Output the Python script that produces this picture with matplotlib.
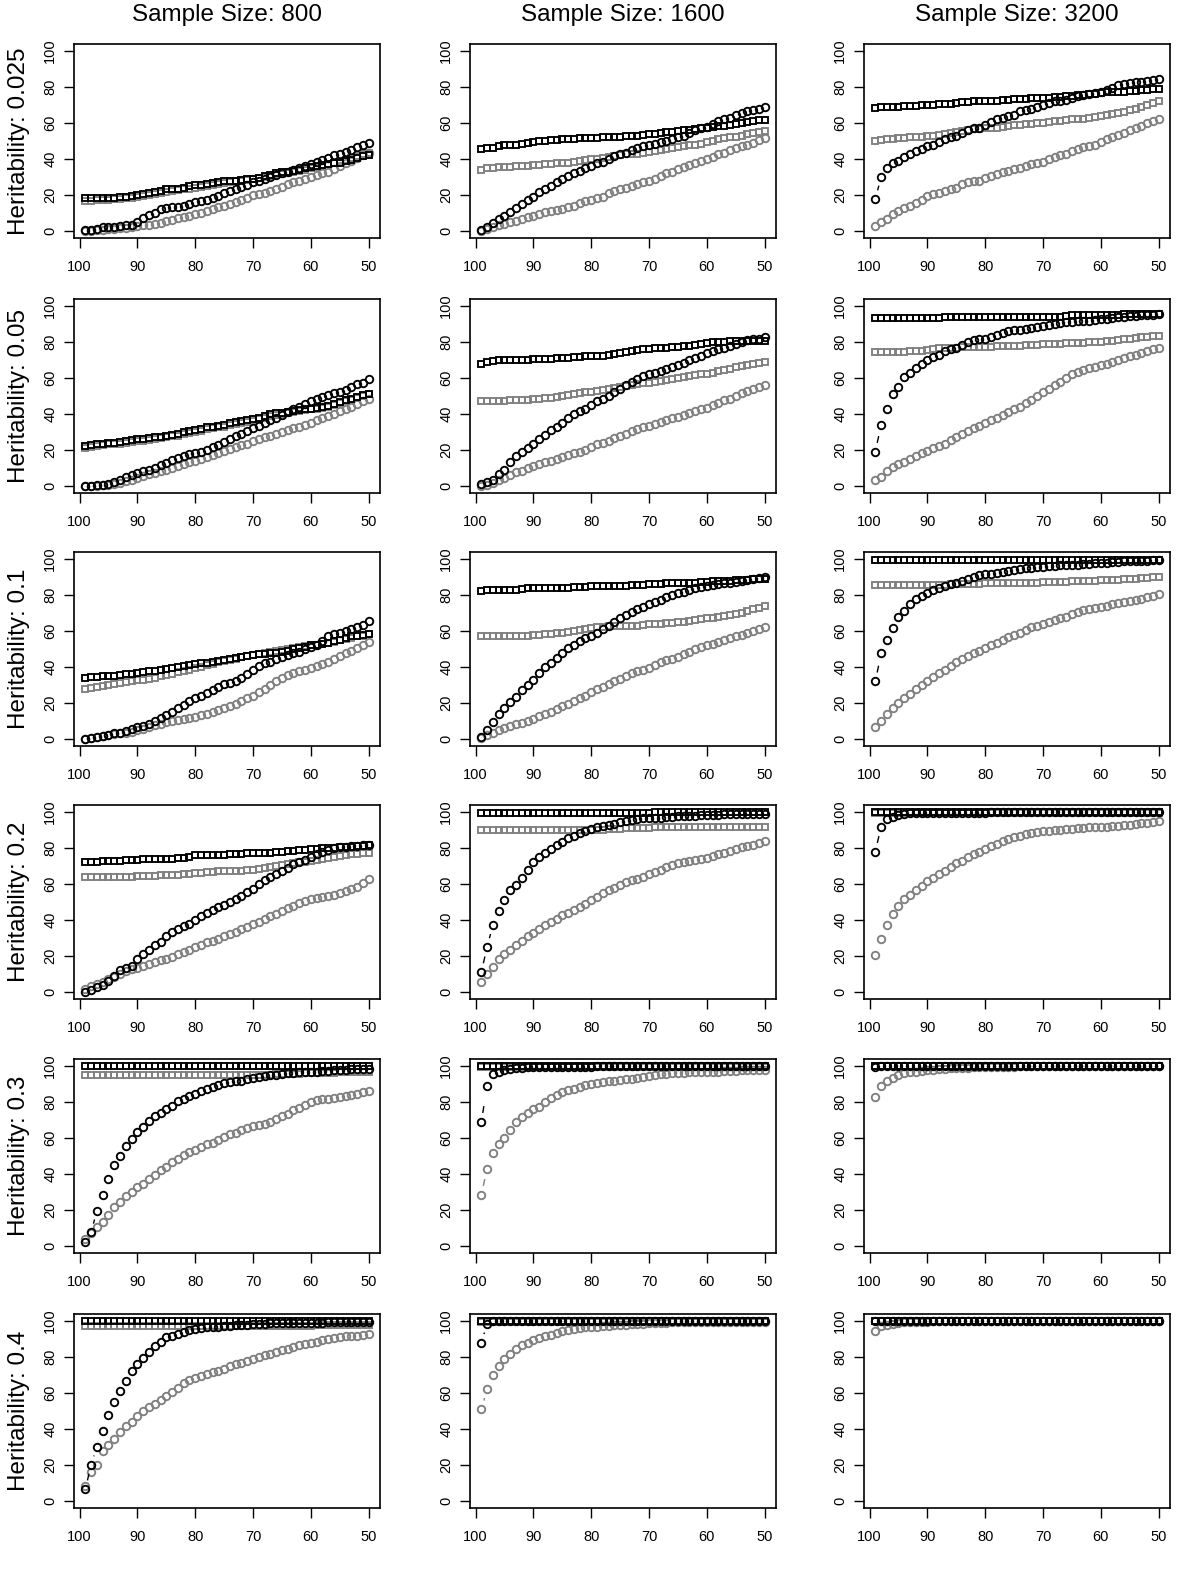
import numpy as np
import matplotlib
matplotlib.use('Agg')
import matplotlib.pyplot as plt

plt.rcParams['font.family'] = ['Liberation Sans', 'DejaVu Sans']

# cutoff (x axis), read from right to left: 99 .. 50
cutoffs = [99, 98, 97, 96, 95, 94, 93, 92, 91, 90, 89, 88, 87, 86, 85, 84, 83,
           82, 81, 80, 79, 78, 77, 76, 75, 74, 73, 72, 71, 70, 69, 68, 67, 66,
           65, 64, 63, 62, 61, 60, 59, 58, 57, 56, 55, 54, 53, 52, 51, 50]
sample_sizes = ['800', '1600', '3200']
heritabilities = ['0.025', '0.05', '0.1', '0.2', '0.3', '0.4']
x_ticks = [100, 90, 80, 70, 60, 50]
y_ticks = [0, 20, 40, 60, 80, 100]

# bsq = black squares, gsq = grey squares, bci = black circles, gci = grey circles

# ---- heritability 0.025 ----
bsq_025_800 = [18, 18, 18, 18, 18.5, 18.5, 19, 19, 19.5, 20,
               20.5, 21, 21.5, 22, 23, 23, 23.5, 24, 25, 25.5,
               25.5, 26, 26.5, 27, 27.5, 27.5, 28, 28.5, 29, 29,
               29.5, 30.5, 31, 32, 32.5, 33, 33.5, 34, 35, 35.5,
               36, 36.5, 37, 37.5, 38, 39, 39.5, 40.5, 41.5, 42]
gsq_025_800 = [16.5, 16.5, 17, 17, 17, 17.5, 17.5, 18, 18.5, 19,
               19.5, 20, 20.5, 21, 21.5, 22, 22.5, 23, 23.5, 24,
               24.5, 25, 25.5, 26, 26.5, 27, 27.5, 28, 28.5, 29,
               29.5, 30, 30.5, 31, 31.5, 32, 33, 33.5, 34, 35,
               35.5, 36, 37, 37.5, 38.5, 39.5, 40.5, 41.5, 42.5, 43.5]
bci_025_800 = [0.3, 0.5, 1, 2, 2, 2.2, 2.5, 3, 3.5, 5,
               7, 9, 10, 12, 12.5, 13, 13.5, 14, 15, 16,
               16.5, 17, 18, 19.5, 21, 22, 23, 24.5, 25.5, 27,
               28, 29, 30, 31, 32, 33, 34, 35, 36, 37,
               38.5, 39.5, 40.5, 42, 43, 44, 45, 46.5, 47.5, 49]
gci_025_800 = [0, 0, 0.3, 0.5, 1, 1, 1.5, 1.5, 2, 2.5,
               3, 3.5, 4, 4.5, 5.5, 6, 7, 7.5, 8.5, 9.5,
               10, 11, 12, 13, 14, 15, 16, 17, 18.5, 20,
               20.5, 21, 22, 23, 24.5, 26, 27, 28, 29, 30,
               31, 32, 33, 34.5, 36, 37.5, 39, 40.5, 42, 43.5]

bsq_025_1600 = [45.5, 46, 46, 47, 47.5, 48, 48, 48.5, 49, 49.5,
                50, 50, 50.5, 50.5, 51, 51, 51, 51.5, 51.5, 51.5,
                51.5, 52, 52, 52, 52.5, 53, 53, 53, 53.5, 54,
                54, 54.5, 55, 55, 55.5, 56, 56, 56.5, 57, 57.5,
                58, 58.5, 58.5, 59, 59.5, 60, 60.5, 61, 61.5, 61.5]
gsq_025_1600 = [34, 35, 35, 35.5, 35.5, 35.5, 36, 36, 36, 36.5,
                36.5, 37, 37, 37.5, 38, 38, 38.5, 39, 39.5, 40,
                40, 40.5, 41, 41.5, 42, 42.5, 43, 43, 43.5, 44,
                44.5, 45, 45.5, 46, 46.5, 47, 47.5, 48, 48.5, 49.5,
                50, 51, 51.5, 52, 52.5, 53, 54, 54.5, 55, 55.5]
bci_025_1600 = [0.5, 2, 4.5, 6.5, 8.5, 10.5, 12.5, 15, 17, 19,
                21.5, 23.5, 25, 27, 29, 30.5, 32, 33.5, 35, 36,
                37.5, 38.5, 40, 41.5, 42.5, 43.5, 45, 46, 47, 48,
                48.5, 49.5, 50, 51, 52, 53, 54.5, 56, 57, 58,
                59.5, 61, 62, 63, 64.5, 65.5, 66.5, 67.5, 68, 69]
gci_025_1600 = [0, 1, 2, 3, 4, 5, 5.5, 6.5, 7.5, 8.5,
                9.5, 10.5, 11, 11.5, 12, 13, 14, 15.5, 16.5, 17,
                18, 19, 21, 22, 23, 24, 25, 26, 27, 28,
                29, 30.5, 32, 33, 34.5, 35.5, 36.5, 38, 39, 40,
                41, 42.5, 43.5, 45, 46, 47, 48, 49, 50.5, 51.5]

bsq_025_3200 = [68.5, 69, 69, 69, 69, 69.5, 69.5, 69.5, 70, 70,
                70, 70.5, 70.5, 70.5, 71, 71.5, 71.5, 72, 72, 72,
                72, 72.5, 73, 73, 73.5, 73.5, 73.5, 74, 74, 74,
                74, 74.5, 74.5, 75, 75, 75.5, 75.5, 76, 76, 76.5,
                77, 77, 77.5, 77.5, 78, 78, 78.5, 78.5, 79, 79]
gsq_025_3200 = [50, 50.5, 51, 51, 51.5, 51.5, 52, 52, 52.5, 53,
                53, 53.5, 54, 54.5, 55, 55.5, 56, 56.5, 56.5, 57,
                57, 57.5, 58, 58.5, 59, 59, 59.5, 59.5, 60, 60,
                60.5, 61, 61, 61.5, 62, 62, 62.5, 63, 63.5, 64,
                64.5, 65, 65.5, 66, 67, 68, 69, 70, 71, 72]
bci_025_3200 = [17.7, 30, 35, 37.5, 39, 41, 43, 44.5, 45.5, 47,
                48, 49.5, 51, 52, 53, 54.5, 56, 57, 57.5, 59,
                60.5, 62, 63, 64, 64.5, 66.5, 67.5, 68, 69, 70,
                71, 72, 72.5, 73, 74, 75, 75.5, 76, 76.5, 77.5,
                78.5, 79.5, 81, 82, 82.5, 83, 83, 83.5, 84, 84.5]
gci_025_3200 = [2.8, 5, 6.5, 9.5, 11, 12.5, 14, 15.5, 17, 19.5,
                20.5, 21, 22, 23, 24, 26, 27, 27.5, 28, 29.5,
                30.5, 31.5, 32.5, 33.5, 34.5, 35, 36, 37, 37.5, 38.5,
                40, 41, 42, 43, 44.5, 45.5, 46.5, 47, 48, 49.5,
                51, 52, 53.5, 54.5, 56, 57, 58.5, 60, 61, 62]

# ---- heritability 0.05 ----
bsq_05_800 = [21.9, 22.5, 23, 23.5, 24, 24, 24.5, 25, 25.5, 26,
              26, 26.5, 27, 27, 28, 28.5, 29, 30, 30.5, 31,
              31.5, 32.5, 33, 33.5, 34, 35, 35.5, 36, 36.5, 37,
              38, 39, 40, 40.5, 40.5, 41, 41.5, 42, 42.5, 43,
              43.5, 44, 44.5, 45.5, 46.5, 47.5, 48.5, 49.5, 50.5, 51]
gsq_05_800 = [21, 21.5, 22, 22.5, 23, 23, 23.5, 24, 24.5, 25,
              25, 25.5, 26, 26.5, 27, 27.5, 28, 29, 29.5, 30,
              30.5, 31.5, 32, 32.5, 33, 34, 34.5, 35, 35.5, 36,
              37, 38, 39, 39.5, 40, 40.5, 41, 41.5, 42, 42.5,
              43, 43.5, 44, 45, 46, 47, 48, 49, 50, 51]
bci_05_800 = [0, 0, 0.3, 0.5, 1, 2, 3.5, 5, 6, 7,
              8, 9, 10, 11.5, 12.5, 14.5, 15.5, 16.5, 17.5, 18.5,
              19, 20, 21.5, 22.5, 24.5, 26, 27.5, 29, 30.5, 32,
              33.5, 35, 36.5, 38, 39.5, 41, 42.5, 44, 45.5, 47,
              48.5, 49.5, 50.5, 51.5, 52.5, 53.5, 55, 56.5, 57.5, 59.5]
gci_05_800 = [0, 0, 0, 0.3, 0.5, 1, 1.5, 2.5, 3.5, 4.5,
              5.5, 6.5, 7, 8, 9, 10, 11, 12, 13, 14,
              15, 16, 17, 18, 19.5, 20.5, 21.5, 22.5, 23.5, 25,
              26, 27, 28, 29, 30, 31, 32, 33, 34, 35,
              36.5, 37.5, 39, 40, 41.5, 43, 44, 45.5, 47, 48.5]

bsq_05_1600 = [68, 69, 69.5, 70, 70, 70, 70, 70, 70, 70.5,
               70.5, 70.5, 70.5, 71, 71, 71, 71.5, 71.5, 72, 72,
               72.5, 72.5, 73, 73.5, 74, 74.5, 75, 75.5, 76, 76,
               76.5, 77, 77, 77.5, 77.5, 78, 78, 78.5, 79, 79.5,
               80, 80, 80, 80.5, 80.5, 80.5, 80.5, 80.5, 80.5, 80.5]
gsq_05_1600 = [47, 47, 47, 47, 47, 47.5, 47.5, 48, 48, 48.5,
               48.5, 49, 49, 49.5, 50, 50.5, 51, 51.5, 52, 52.5,
               53, 53.5, 54, 54.5, 55, 55.5, 56, 56.5, 57, 57.5,
               58, 58.5, 59, 59.5, 60, 60.5, 61, 61.5, 62, 62.5,
               63, 64, 64.5, 65, 66, 66.5, 67, 68, 68.5, 69]
bci_05_1600 = [1, 2, 3.5, 6.5, 9, 13.5, 16.5, 19, 21, 23.5,
               26, 28.5, 31, 33, 35, 37.5, 40, 41.5, 43, 45,
               47, 48.5, 50, 52, 54, 56, 58, 59.5, 61, 62,
               63, 64, 65, 66, 67, 68.5, 70, 71, 72.5, 74,
               75, 76, 77, 78, 79, 80, 81, 81.5, 82, 83]
gci_05_1600 = [0, 0.5, 1.5, 3, 4.5, 6, 7.5, 8.5, 10, 11,
               12, 13, 14, 15, 16, 17, 18, 19, 20, 21.5,
               23, 24, 25, 26.5, 28, 29, 30.5, 31.5, 32.5, 33.5,
               34.5, 35.5, 36.5, 37.5, 38.5, 39.5, 40.5, 41.5, 42.5, 43.5,
               45, 46, 47.5, 48.5, 50, 51.5, 53, 54, 55, 56]

bsq_05_3200 = [93.5, 93.5, 93.5, 93.5, 93.5, 93.5, 93.5, 93.5, 93.5, 93.5,
               93.5, 93.5, 94, 94, 94, 94, 94, 94, 94, 94,
               94, 94, 94, 94, 94, 94, 94, 94, 94, 94,
               94, 94, 94, 94.5, 95, 95, 95, 95, 95, 95,
               95, 95, 95, 95.5, 95.5, 95.5, 95.5, 95.5, 95.5, 95.5]
gsq_05_3200 = [74.5, 74.5, 74.5, 74.5, 74.5, 74.5, 75, 75, 75, 75.5,
               76, 76.5, 77, 77, 77, 77.5, 77.5, 77.5, 77.5, 77.5,
               77.5, 78, 78, 78, 78, 78, 78.5, 78.5, 78.5, 79,
               79, 79, 79, 79.5, 79.5, 79.5, 79.5, 80, 80, 80,
               80.5, 80.5, 81, 81.5, 82, 82.5, 83, 83, 83.5, 83.5]
bci_05_3200 = [19, 34, 43, 51, 55, 60.5, 63, 65.5, 68, 70,
               71.5, 73, 75, 76, 77, 78.5, 80, 81, 81.5, 82,
               83, 84, 85, 86, 86.5, 87, 87.5, 88, 88.5, 89,
               89.5, 90, 90.5, 91, 91, 91.5, 92, 92, 92.5, 93,
               93, 93.5, 94, 94, 94.5, 94.5, 95, 95, 95, 95.5]
gci_05_3200 = [3, 5, 8.5, 10.5, 12, 13.5, 15, 16.5, 18, 19.5,
               21, 22, 23.5, 25.5, 27, 29, 30.5, 32, 33.5, 35,
               36.5, 38, 39.5, 41, 42.5, 44, 46, 48, 50, 52,
               54, 56, 58, 60, 62, 63.5, 64.5, 65.5, 66, 67,
               68, 69, 70, 71, 72, 73, 74, 75, 76, 77]

# ---- heritability 0.1 ----
bsq_1_800 = [33.7, 34.5, 34.5, 35, 35, 35, 35.5, 36, 36, 36.5,
             37, 37.5, 38, 38.5, 39, 39.5, 40, 40.5, 41, 41.5,
             42, 42, 42.5, 43.5, 44, 44.5, 45, 45.5, 46, 46.5,
             47, 47, 47.5, 48, 48.5, 49, 50, 50.5, 51, 52,
             52.5, 53, 53.5, 54.5, 55, 56, 57, 57.5, 58, 58.5]
gsq_1_800 = [28, 28.5, 29, 29.5, 30, 30.5, 31, 31.5, 32, 32.5,
             33, 33.5, 34, 35, 35.5, 36, 37, 38, 38.5, 39.5,
             40, 41, 41.5, 42.5, 43.5, 44, 44.5, 45.5, 46, 46.5,
             47, 47.5, 48.5, 49, 49.5, 50, 50.5, 51, 51.5, 52,
             52.5, 53, 53.5, 54, 55, 55.5, 56, 57, 57.5, 58.5]
bci_1_800 = [0, 0.5, 1, 1.5, 2, 3, 3.5, 4.5, 5.5, 6.5,
             7, 8.5, 10, 11.5, 13, 15, 17, 19, 21, 22.5,
             24, 25.5, 27, 29, 30.5, 31, 32, 34, 36, 38.5,
             40.5, 42, 43, 44.5, 45.5, 46.5, 47.5, 48.5, 50, 51,
             52.5, 54.5, 57, 58.5, 59, 60, 61, 62, 63.5, 65.5]
gci_1_800 = [0, 0.5, 1, 1.5, 2, 2.5, 3, 3.5, 4, 5,
             5.5, 6.5, 7.5, 8.5, 9.5, 10, 10.5, 11, 11.5, 12,
             13, 14, 15, 16, 17, 18, 19.5, 21, 22.5, 24,
             26, 28, 30, 32, 34, 35.5, 36.5, 37.5, 38.5, 39.5,
             40.5, 41.5, 43, 44.5, 46, 47.5, 49, 50.5, 52, 54]

bsq_1_1600 = [82.5, 83, 83, 83, 83, 83, 83, 83.5, 84, 84,
              84, 84, 84, 84, 84, 84, 84.5, 84.5, 84.5, 85,
              85, 85, 85, 85, 85, 85, 85.5, 85.5, 85.5, 86,
              86, 86, 86.5, 86.5, 87, 87, 87, 87, 87.5, 87.5,
              88, 88, 88, 88, 88.5, 88.5, 88.5, 89, 89, 89]
gsq_1_1600 = [57, 57, 57, 57, 57, 57, 57.5, 57.5, 57.5, 58,
              58, 58.5, 58.5, 59, 59, 59.5, 60, 60.5, 61, 61.5,
              62, 62.5, 63, 63, 63, 63, 63, 63, 63.5, 64,
              64, 64, 64.5, 64.5, 65, 65, 65.5, 66, 66.5, 67,
              67.5, 68, 68.5, 69, 69.5, 70, 71, 72, 73, 74]
bci_1_1600 = [1, 5, 9.5, 14, 17, 20.5, 23.5, 27, 30, 33,
              36.5, 40, 42, 45, 48, 50.5, 52.5, 54.5, 56, 57.5,
              59, 61, 63, 65, 67, 69, 70.5, 72, 73.5, 75,
              76, 77.5, 79, 80, 81, 82, 83, 84, 84.5, 85,
              85.5, 86, 86.5, 87, 87.5, 88, 88.5, 89, 89.5, 90]
gci_1_1600 = [0.5, 2, 3.5, 5, 6, 7, 8, 9, 10, 11,
              12.5, 14, 15, 16.5, 18, 19.5, 21, 22.5, 24, 26,
              27.5, 29, 30.5, 32, 33.5, 35, 36.5, 37.5, 38.5, 39.5,
              41, 42.5, 44, 44.5, 45.5, 47, 48.5, 50, 51, 52,
              53, 54, 55, 56, 57, 58, 59, 60, 61, 62.5]

bsq_1_3200 = [99.5, 99.5, 99.5, 99.5, 99.5, 99.5, 99.5, 99.5, 99.5, 99.5,
              99.5, 99.5, 99.5, 99.5, 99.5, 99.5, 99.5, 99.5, 99.5, 99.5,
              99.5, 99.5, 99.5, 99.5, 99.5, 99.5, 99.5, 99.5, 99.5, 99.5,
              99.5, 99.5, 99.5, 99.5, 99.5, 99.5, 99.5, 99.5, 99.5, 99.5,
              99.5, 99.5, 99.5, 99.5, 99.5, 99.5, 99.5, 99.5, 99.5, 99.5]
gsq_1_3200 = [85.5, 85.5, 85.5, 85.5, 85.5, 85.5, 85.5, 85.5, 85.5, 85.5,
              85.5, 85.5, 85.5, 86, 86, 86, 86, 86, 86, 86.5,
              86.5, 86.5, 86.5, 86.5, 87, 87, 87, 87, 87, 87.5,
              87.5, 87.5, 87.5, 87.5, 88, 88, 88, 88, 88, 88.5,
              88.5, 88.5, 88.5, 89, 89, 89, 89.5, 89.5, 90, 90]
bci_1_3200 = [32, 47.5, 55, 61.5, 68, 71, 75, 78, 79.5, 81,
              83, 84, 85, 86, 87, 88, 89, 90, 91, 91.5,
              92, 92.5, 93, 93.5, 94, 94.5, 95, 95, 95.5, 95.5,
              96, 96, 96.5, 96.5, 97, 97, 97.5, 97.5, 98, 98,
              98, 98.5, 98.5, 99, 99, 99, 99, 99, 99.5, 99.5]
gci_1_3200 = [6.5, 10, 14, 17, 20, 22.5, 25, 27.5, 30, 32,
              34.5, 36.5, 38.5, 40.5, 42.5, 44.5, 46, 47.5, 49, 50.5,
              52, 53.5, 55, 56.5, 58, 59, 60.5, 62, 63, 64,
              65, 66, 67, 68, 69.5, 70.5, 71.5, 72.5, 73, 73.5,
              74, 75, 75.5, 76, 76.5, 77.5, 78, 79, 79.5, 80.5]

# ---- heritability 0.2 ----
bsq_2_800 = [72, 72.5, 72.5, 73, 73, 73, 73, 73.5, 73.5, 73.5,
             74, 74, 74, 74, 74, 74, 74.5, 74.5, 75, 76,
             76, 76, 76, 76, 76, 76.5, 76.5, 76.5, 77, 77,
             77, 77.5, 77.5, 78, 78, 78.5, 78.5, 79, 79, 79.5,
             79.5, 80, 80, 80, 80.5, 80.5, 80.5, 81, 81, 81.5]
gsq_2_800 = [64, 64, 64, 64, 64, 64, 64, 64, 64, 64.5,
             64.5, 64.5, 64.5, 65, 65, 65, 65, 65.5, 65.5, 66,
             66, 66.5, 66.5, 67, 67, 67, 67.5, 67.5, 68, 68,
             68.5, 69, 69.5, 70, 70.5, 71, 71.5, 72, 72.5, 73,
             73.5, 74, 74.5, 75, 75.5, 76, 76.5, 76.5, 77, 77.5]
bci_2_800 = [0, 1, 2.5, 4, 6, 9, 12, 13, 14.5, 18,
             21, 23.5, 26, 28, 31, 33.5, 35, 36.5, 37.5, 40,
             42, 44, 45.5, 47, 48.5, 50, 51.5, 53.5, 55.5, 57.5,
             60, 62, 64, 65.5, 67, 69, 71, 72, 73.5, 75,
             76.5, 78, 79, 80, 80.5, 80.5, 81, 81, 81.5, 81.5]
gci_2_800 = [1.5, 3, 4.5, 5.5, 7, 8.5, 10, 11.5, 12.5, 13.5,
             14.5, 15.5, 16.5, 17.5, 18.5, 19.5, 21, 22, 23.5, 25,
             26, 27.5, 28.5, 29.5, 31, 32, 33.5, 35, 36, 37.5,
             39, 40.5, 42, 43.5, 45, 46.5, 48, 49.5, 50.5, 51.5,
             52, 53, 53.5, 54, 55, 56, 57, 58.5, 60.5, 63]

bsq_2_1600 = [99.5, 99.5, 99.5, 99.5, 99.5, 99.5, 99.5, 99.5, 99.5, 99.5,
              99.5, 99.5, 99.5, 99.5, 99.5, 99.5, 99.5, 99.5, 99.5, 99.5,
              99.5, 99.5, 99.5, 99.5, 99.5, 99.5, 99.5, 99.5, 99.5, 99.5,
              100, 100, 100, 100, 100, 100, 100, 100, 100, 100,
              100, 100, 100, 100, 100, 100, 100, 100, 100, 100]
gsq_2_1600 = [90, 90, 90, 90, 90, 90, 90, 90, 90, 90,
              90, 90, 90, 90, 90, 90, 90, 90, 90, 90,
              90, 90, 90.5, 90.5, 90.5, 91, 91, 91, 91, 91,
              91.5, 91.5, 91.5, 91.5, 91.5, 92, 92, 92, 92, 92,
              92, 92, 92, 92, 92, 92, 92, 92, 92, 92]
bci_2_1600 = [11, 25, 37, 45, 51, 56.5, 59.5, 63.5, 68, 72,
              75, 77, 79.5, 82, 83.5, 85.5, 87, 88.5, 89.5, 90.5,
              91.5, 92.5, 93, 93.5, 94.5, 95, 95.5, 96, 96.5, 96.5,
              97, 97, 97.5, 97.5, 98, 98, 98, 98, 98.5, 98.5,
              98.5, 98.5, 99, 99, 99, 99, 99, 99, 99, 99]
gci_2_1600 = [5.5, 10, 14, 18, 21, 23.5, 26, 28.5, 31, 33,
              35, 37, 39, 40.5, 42.5, 44, 45.5, 47, 49, 51,
              53, 55, 56.5, 58, 59.5, 61, 62, 63, 64, 65.5,
              66.5, 68, 69.5, 70.5, 71.5, 72.5, 73, 73.5, 74, 74.5,
              75.5, 76.5, 77.5, 78.5, 79.5, 80.5, 81, 82, 83, 84]

bsq_2_3200 = [100, 100, 100, 100, 100, 100, 100, 100, 100, 100,
              100, 100, 100, 100, 100, 100, 100, 100, 100, 100,
              100, 100, 100, 100, 100, 100, 100, 100, 100, 100,
              100, 100, 100, 100, 100, 100, 100, 100, 100, 100,
              100, 100, 100, 100, 100, 100, 100, 100, 100, 100]
gsq_2_3200 = [99.5, 99.5, 99.5, 99.5, 99.5, 99.5, 99.5, 99.5, 99.5, 99.5,
              99.5, 99.5, 99.5, 99.5, 99.5, 99.5, 99.5, 99.5, 99.5, 99.5,
              99.5, 99.5, 99.5, 99.5, 99.5, 99.5, 99.5, 99.5, 99.5, 99.5,
              99.5, 99.5, 99.5, 99.5, 99.5, 99.5, 99.5, 99.5, 99.5, 99.5,
              99.5, 99.5, 99.5, 99.5, 99.5, 99.5, 99.5, 99.5, 99.5, 99.5]
bci_2_3200 = [78, 92, 96, 97.5, 98.5, 99, 99.5, 99.5, 99.5, 99.5,
              99.5, 99.5, 99.5, 99.5, 99.5, 99.5, 99.5, 99.5, 99.5, 99.5,
              100, 100, 100, 100, 100, 100, 100, 100, 100, 100,
              100, 100, 100, 100, 100, 100, 100, 100, 100, 100,
              100, 100, 100, 100, 100, 100, 100, 100, 100, 100]
gci_2_3200 = [20.5, 29.5, 37, 43.5, 47.5, 51.5, 54, 56.5, 59, 61.5,
              63.5, 65.5, 67, 69.5, 71.5, 73, 75, 76.5, 78, 79.5,
              81, 82.5, 84, 85, 86, 87, 88, 88.5, 89, 89.5,
              89.5, 90, 90, 90.5, 90.5, 91, 91, 91.5, 92, 92,
              92, 92.5, 92.5, 93, 93, 93.5, 94, 94, 94.5, 95]

# ---- heritability 0.3 ----
bsq_3_800 = [100, 100, 100, 100, 100, 100, 100, 100, 100, 100,
             100, 100, 100, 100, 100, 100, 100, 100, 100, 100,
             100, 100, 100, 100, 100, 100, 100, 100, 100, 100,
             100, 100, 100, 100, 100, 100, 100, 100, 100, 100,
             100, 100, 100, 100, 100, 100, 100, 100, 100, 100]
gsq_3_800 = [95, 95, 95, 95, 95, 95, 95, 95, 95, 95,
             95, 95, 95, 95, 95, 95, 95, 95, 95, 95,
             95, 95, 95, 95, 95, 95, 95, 95, 95, 95,
             95, 95, 95, 95.5, 95.5, 95.5, 95.5, 95.5, 96, 96,
             96, 96, 96, 96, 96.5, 96.5, 96.5, 96.5, 96.5, 96.5]
bci_3_800 = [2, 7.5, 19.5, 28.5, 37, 45, 50, 55.5, 59.5, 63.5,
             66, 69.5, 72.5, 74, 76, 78, 80.5, 82, 83.5, 84.5,
             86, 87.5, 88.5, 89.5, 90.5, 91, 91.5, 92, 93, 93.5,
             94, 94.5, 95, 95, 95.5, 96, 96, 96.5, 96.5, 97,
             97, 97.5, 97.5, 98, 98, 98, 98.5, 98.5, 98.5, 98.5]
gci_3_800 = [4, 7, 10.5, 13, 17, 21.5, 24.5, 27.5, 30, 32.5,
             34.5, 37, 39.5, 42, 44, 46.5, 48.5, 50.5, 52.5, 53.5,
             55, 56.5, 57.5, 59, 60.5, 62, 63, 64.5, 65.5, 66.5,
             67, 68, 69, 70.5, 72, 73.5, 75.5, 77, 78.5, 80,
             81, 81.5, 82, 82.5, 83, 83.5, 84, 84.5, 85.5, 86]

bsq_3_1600 = [100, 100, 100, 100, 100, 100, 100, 100, 100, 100,
              100, 100, 100, 100, 100, 100, 100, 100, 100, 100,
              100, 100, 100, 100, 100, 100, 100, 100, 100, 100,
              100, 100, 100, 100, 100, 100, 100, 100, 100, 100,
              100, 100, 100, 100, 100, 100, 100, 100, 100, 100]
gsq_3_1600 = [99.5, 99.5, 99.5, 99.5, 99.5, 99.5, 99.5, 99.5, 99.5, 99.5,
              99.5, 99.5, 99.5, 99.5, 99.5, 99.5, 99.5, 99.5, 99.5, 99.5,
              99.5, 99.5, 99.5, 99.5, 99.5, 99.5, 99.5, 99.5, 99.5, 99.5,
              99.5, 99.5, 99.5, 99.5, 99.5, 99.5, 99.5, 99.5, 99.5, 99.5,
              99.5, 99.5, 99.5, 99.5, 99.5, 99.5, 99.5, 99.5, 99.5, 99.5]
bci_3_1600 = [69, 89, 95.5, 97, 98, 98.5, 99, 99, 99.5, 99.5,
              99.5, 99.5, 99.5, 99.5, 99.5, 99.5, 99.5, 99.5, 99.5, 99.5,
              100, 100, 100, 100, 100, 100, 100, 100, 100, 100,
              100, 100, 100, 100, 100, 100, 100, 100, 100, 100,
              100, 100, 100, 100, 100, 100, 100, 100, 100, 100]
gci_3_1600 = [28.5, 43, 51.5, 56.5, 60, 64.5, 69, 71.5, 74, 76,
              77.5, 80, 82.5, 84, 85.5, 86.5, 87.5, 88.5, 89.5, 90,
              90.5, 91, 91.5, 92, 92.5, 93, 93, 93.5, 94, 94.5,
              95, 95.5, 95.5, 96, 96, 96, 96.5, 96.5, 96.5, 97,
              97, 97, 97.5, 97.5, 97.5, 98, 98, 98, 98, 98]

bsq_3_3200 = [100, 100, 100, 100, 100, 100, 100, 100, 100, 100,
              100, 100, 100, 100, 100, 100, 100, 100, 100, 100,
              100, 100, 100, 100, 100, 100, 100, 100, 100, 100,
              100, 100, 100, 100, 100, 100, 100, 100, 100, 100,
              100, 100, 100, 100, 100, 100, 100, 100, 100, 100]
gsq_3_3200 = [100, 100, 100, 100, 100, 100, 100, 100, 100, 100,
              100, 100, 100, 100, 100, 100, 100, 100, 100, 100,
              100, 100, 100, 100, 100, 100, 100, 100, 100, 100,
              100, 100, 100, 100, 100, 100, 100, 100, 100, 100,
              100, 100, 100, 100, 100, 100, 100, 100, 100, 100]
bci_3_3200 = [99.5, 100, 100, 100, 100, 100, 100, 100, 100, 100,
              100, 100, 100, 100, 100, 100, 100, 100, 100, 100,
              100, 100, 100, 100, 100, 100, 100, 100, 100, 100,
              100, 100, 100, 100, 100, 100, 100, 100, 100, 100,
              100, 100, 100, 100, 100, 100, 100, 100, 100, 100]
gci_3_3200 = [83, 89, 91.5, 93.5, 95, 96, 96.5, 97, 97.5, 98,
              98, 98.5, 98.5, 99, 99, 99, 99, 99.5, 99.5, 99.5,
              99.5, 99.5, 99.5, 99.5, 99.5, 100, 100, 100, 100, 100,
              100, 100, 100, 100, 100, 100, 100, 100, 100, 100,
              100, 100, 100, 100, 100, 100, 100, 100, 100, 100]

# ---- heritability 0.4 ----
bsq_4_800 = [100, 100, 100, 100, 100, 100, 100, 100, 100, 100,
             100, 100, 100, 100, 100, 100, 100, 100, 100, 100,
             100, 100, 100, 100, 100, 100, 100, 100, 100, 100,
             100, 100, 100, 100, 100, 100, 100, 100, 100, 100,
             100, 100, 100, 100, 100, 100, 100, 100, 100, 100]
gsq_4_800 = [97.5, 97.5, 97.5, 97.5, 97.5, 97.5, 97.5, 97.5, 97.5, 97.5,
             97.5, 97.5, 97.5, 97.5, 97.5, 97.5, 97.5, 97.5, 97.5, 97.5,
             97.5, 97.5, 97.5, 97.5, 97.5, 97.5, 97.5, 97.5, 97.5, 97.5,
             97.5, 97.5, 97.5, 97.5, 97.5, 97.5, 97.5, 97.5, 97.5, 97.5,
             98, 98, 98, 98, 98, 98, 98, 98, 98, 98]
bci_4_800 = [6.5, 20, 30, 39, 47.5, 55, 61, 66.5, 72.5, 76,
             79.5, 83, 86, 88.5, 91, 92, 93, 94, 95, 95.5,
             96, 96.5, 97, 97, 97.5, 97.5, 98, 98, 98, 98.5,
             98.5, 98.5, 99, 99, 99, 99, 99, 99, 99, 99,
             99, 99, 99.5, 99.5, 99.5, 99.5, 99.5, 99.5, 99.5, 99.5]
gci_4_800 = [8.5, 16, 20, 27.5, 31, 34.5, 38.5, 41.5, 44, 47,
             50, 52, 54, 56, 58.5, 60.5, 63, 65.5, 67.5, 68.5,
             69.5, 70.5, 71.5, 72.5, 73.5, 75, 76, 77, 78, 79,
             80, 81, 82, 83, 84, 84.5, 85.5, 86.5, 87.5, 88,
             88.5, 89.5, 90, 90.5, 91, 91.5, 92, 92, 92.5, 93]

bsq_4_1600 = [100, 100, 100, 100, 100, 100, 100, 100, 100, 100,
              100, 100, 100, 100, 100, 100, 100, 100, 100, 100,
              100, 100, 100, 100, 100, 100, 100, 100, 100, 100,
              100, 100, 100, 100, 100, 100, 100, 100, 100, 100,
              100, 100, 100, 100, 100, 100, 100, 100, 100, 100]
gsq_4_1600 = [99.5, 99.5, 99.5, 99.5, 99.5, 99.5, 99.5, 99.5, 99.5, 99.5,
              99.5, 99.5, 99.5, 99.5, 99.5, 99.5, 99.5, 99.5, 99.5, 99.5,
              99.5, 99.5, 99.5, 99.5, 99.5, 99.5, 99.5, 99.5, 99.5, 99.5,
              99.5, 99.5, 99.5, 99.5, 99.5, 99.5, 99.5, 99.5, 99.5, 99.5,
              99.5, 99.5, 99.5, 99.5, 99.5, 99.5, 99.5, 99.5, 99.5, 99.5]
bci_4_1600 = [88, 98.5, 100, 100, 100, 100, 100, 100, 100, 100,
              100, 100, 100, 100, 100, 100, 100, 100, 100, 100,
              100, 100, 100, 100, 100, 100, 100, 100, 100, 100,
              100, 100, 100, 100, 100, 100, 100, 100, 100, 100,
              100, 100, 100, 100, 100, 100, 100, 100, 100, 100]
gci_4_1600 = [51, 62, 70, 75, 79, 82, 84.5, 86.5, 88, 89.5,
              90.5, 91.5, 92.5, 93.5, 94.5, 95, 95.5, 96, 96.5, 97,
              97, 97.5, 97.5, 98, 98, 98, 98.5, 98.5, 98.5, 99,
              99, 99, 99, 99.5, 99.5, 99.5, 99.5, 99.5, 99.5, 99.5,
              99.5, 99.5, 99.5, 99.5, 99.5, 99.5, 99.5, 99.5, 99.5, 99.5]

bsq_4_3200 = [100, 100, 100, 100, 100, 100, 100, 100, 100, 100,
              100, 100, 100, 100, 100, 100, 100, 100, 100, 100,
              100, 100, 100, 100, 100, 100, 100, 100, 100, 100,
              100, 100, 100, 100, 100, 100, 100, 100, 100, 100,
              100, 100, 100, 100, 100, 100, 100, 100, 100, 100]
gsq_4_3200 = [100, 100, 100, 100, 100, 100, 100, 100, 100, 100,
              100, 100, 100, 100, 100, 100, 100, 100, 100, 100,
              100, 100, 100, 100, 100, 100, 100, 100, 100, 100,
              100, 100, 100, 100, 100, 100, 100, 100, 100, 100,
              100, 100, 100, 100, 100, 100, 100, 100, 100, 100]
bci_4_3200 = [100, 100, 100, 100, 100, 100, 100, 100, 100, 100,
              100, 100, 100, 100, 100, 100, 100, 100, 100, 100,
              100, 100, 100, 100, 100, 100, 100, 100, 100, 100,
              100, 100, 100, 100, 100, 100, 100, 100, 100, 100,
              100, 100, 100, 100, 100, 100, 100, 100, 100, 100]
gci_4_3200 = [94.5, 97.5, 98, 98.5, 99, 99.5, 99.5, 99.5, 99.5, 99.5,
              100, 100, 100, 100, 100, 100, 100, 100, 100, 100,
              100, 100, 100, 100, 100, 100, 100, 100, 100, 100,
              100, 100, 100, 100, 100, 100, 100, 100, 100, 100,
              100, 100, 100, 100, 100, 100, 100, 100, 100, 100]

# rows = heritability, columns = sample size; each cell (bsq, gsq, bci, gci)
panels = [
    [(bsq_025_800, gsq_025_800, bci_025_800, gci_025_800),
     (bsq_025_1600, gsq_025_1600, bci_025_1600, gci_025_1600),
     (bsq_025_3200, gsq_025_3200, bci_025_3200, gci_025_3200)],
    [(bsq_05_800, gsq_05_800, bci_05_800, gci_05_800),
     (bsq_05_1600, gsq_05_1600, bci_05_1600, gci_05_1600),
     (bsq_05_3200, gsq_05_3200, bci_05_3200, gci_05_3200)],
    [(bsq_1_800, gsq_1_800, bci_1_800, gci_1_800),
     (bsq_1_1600, gsq_1_1600, bci_1_1600, gci_1_1600),
     (bsq_1_3200, gsq_1_3200, bci_1_3200, gci_1_3200)],
    [(bsq_2_800, gsq_2_800, bci_2_800, gci_2_800),
     (bsq_2_1600, gsq_2_1600, bci_2_1600, gci_2_1600),
     (bsq_2_3200, gsq_2_3200, bci_2_3200, gci_2_3200)],
    [(bsq_3_800, gsq_3_800, bci_3_800, gci_3_800),
     (bsq_3_1600, gsq_3_1600, bci_3_1600, gci_3_1600),
     (bsq_3_3200, gsq_3_3200, bci_3_3200, gci_3_3200)],
    [(bsq_4_800, gsq_4_800, bci_4_800, gci_4_800),
     (bsq_4_1600, gsq_4_1600, bci_4_1600, gci_4_1600),
     (bsq_4_3200, gsq_4_3200, bci_4_3200, gci_4_3200)],
]

BLACK = 'black'
GREY = '#808080'
W, H = 1200, 1575
box_left = [74, 470, 864]
box_top = [44, 299, 552, 805, 1059, 1314]
box_w, box_h = 306, 194
GAP_PX = 9  # R type="b": line stops short of each symbol

fig = plt.figure(figsize=(W / 100, H / 100), dpi=100)


def draw_b(ax, x, y, color, marker, ms):
    pts = ax.transData.transform(np.column_stack([x, y]))
    inv = ax.transData.inverted()
    for p0, p1 in zip(pts[:-1], pts[1:]):
        d = np.hypot(*(p1 - p0))
        if d > 2 * GAP_PX:
            f = GAP_PX / d
            a = inv.transform(p0 + f * (p1 - p0))
            b = inv.transform(p1 - f * (p1 - p0))
            # dashed: only the first dash shows between close symbols
            ax.plot([a[0], b[0]], [a[1], b[1]], color=color, lw=1.0,
                    linestyle=(0, (5, 15)), dash_capstyle='butt')
    ax.plot(x, y, linestyle='none', marker=marker, ms=ms, mfc='none',
            mec=color, mew=1.35)


for r in range(6):
    for c in range(3):
        ax = fig.add_axes([box_left[c] / W, 1 - (box_top[r] + box_h) / H,
                           box_w / W, box_h / H])
        ax.set_xlim(100.96, 48.04)
        ax.set_ylim(-4, 104)
        bsq, gsq, bci, gci = panels[r][c]
        draw_b(ax, cutoffs, gsq, GREY, 's', 4.8)
        draw_b(ax, cutoffs, gci, GREY, 'o', 5.4)
        draw_b(ax, cutoffs, bsq, BLACK, 's', 4.8)
        draw_b(ax, cutoffs, bci, BLACK, 'o', 5.4)
        ax.set_xticks(x_ticks)
        ax.set_yticks(y_ticks)
        ax.set_yticklabels([str(v) for v in y_ticks], rotation=90, va='center')
        ax.tick_params(direction='out', length=7, width=1, labelsize=10.5)
        ax.tick_params(axis='x', pad=9)
        ax.tick_params(axis='y', pad=5)
        for s in ax.spines.values():
            s.set_linewidth(1.2)

for c in range(3):
    fig.text((box_left[c] + box_w / 2) / W, 1 - 15 / H,
             'Sample Size: ' + sample_sizes[c], ha='center', va='center',
             fontsize=17.5)
for r in range(6):
    fig.text(19 / W, 1 - (box_top[r] + box_h / 2) / H,
             'Heritability: ' + heritabilities[r], rotation=90,
             ha='center', va='center', fontsize=17.5)

fig.savefig('out.png', dpi=100, facecolor='white')
